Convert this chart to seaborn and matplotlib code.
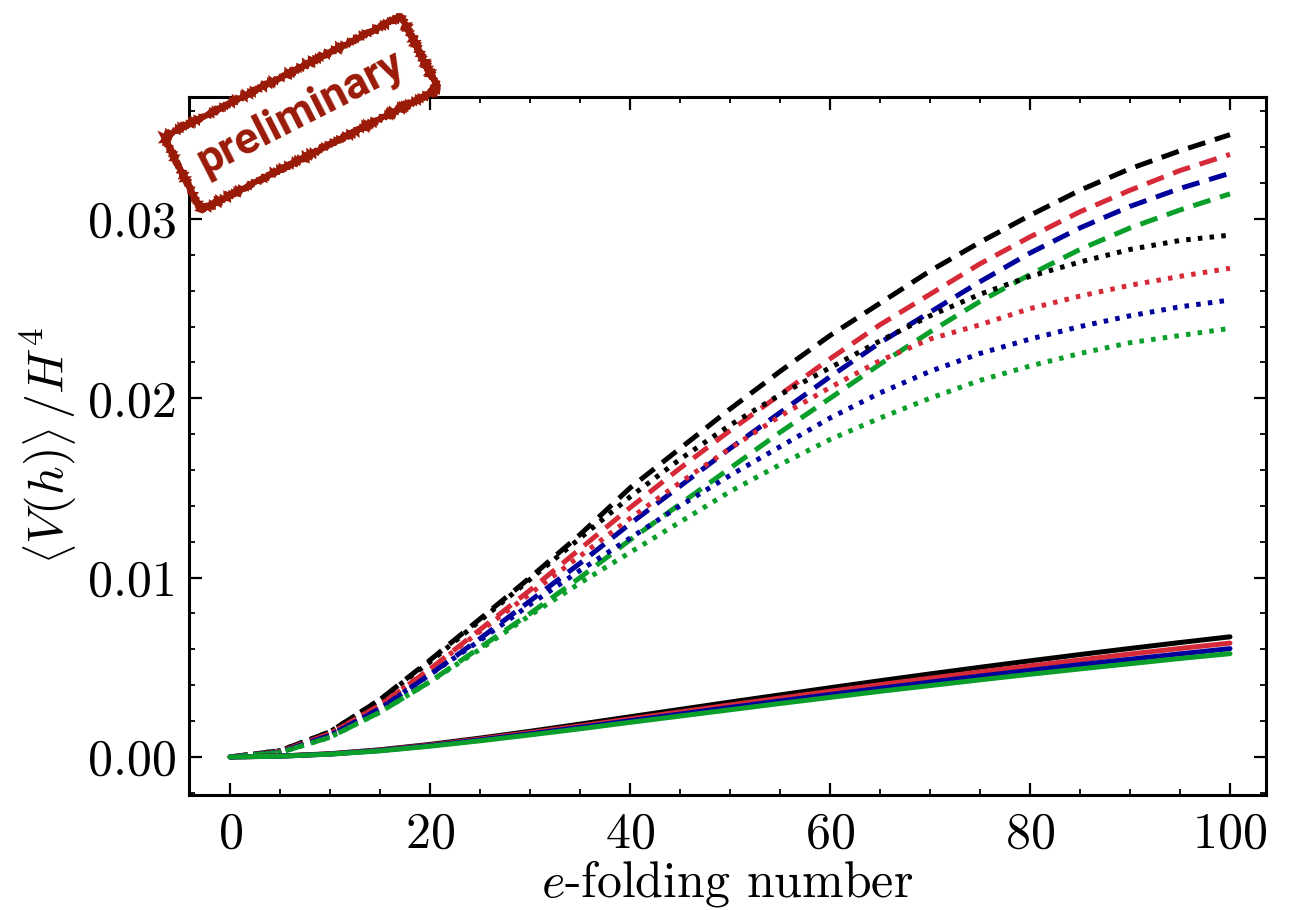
import numpy as np
import pandas as pd
import matplotlib
matplotlib.use("Agg")
import matplotlib.pyplot as plt
import seaborn as sns
from matplotlib.ticker import MultipleLocator, FormatStrFormatter

sns.set_style("ticks")
plt.rcParams.update({
    "font.family": "serif",
    "font.serif": ["cmr10", "DejaVu Serif"],
    "mathtext.fontset": "cm",
    "axes.formatter.use_mathtext": True,
    "axes.unicode_minus": False,
    "axes.edgecolor": "black",
    "xtick.color": "black",
    "ytick.color": "black",
    "text.color": "black",
    "axes.labelcolor": "black",
})

efold = [0, 5, 10, 15, 20, 25, 30, 35, 40, 45, 50, 55, 60, 65, 70, 75, 80, 85, 90, 95, 100]

black_dashed = [0, 0.00035, 0.0014, 0.0032, 0.0054, 0.0077, 0.0100, 0.0124, 0.0150, 0.0172, 0.0194,
                0.0215, 0.0235, 0.0253, 0.0271, 0.0287, 0.0302, 0.0316, 0.0328, 0.0338, 0.0347]
red_dashed = [0, 0.0003, 0.0013, 0.0029, 0.0049, 0.0071, 0.0093, 0.0116, 0.0139, 0.0161, 0.0182,
              0.0202, 0.0222, 0.0241, 0.0258, 0.0275, 0.0290, 0.0304, 0.0316, 0.0327, 0.0336]
blue_dashed = [0, 0.00027, 0.0012, 0.0027, 0.0046, 0.0066, 0.0087, 0.0108, 0.0130, 0.0151, 0.0172,
               0.0192, 0.0212, 0.0231, 0.0248, 0.0265, 0.0281, 0.0295, 0.0307, 0.0317, 0.03255]
green_dashed = [0, 0.00025, 0.0011, 0.0025, 0.0042, 0.0061, 0.0080, 0.0100, 0.0121, 0.0141, 0.0161,
                0.0181, 0.0200, 0.0219, 0.0237, 0.0254, 0.0269, 0.0283, 0.0295, 0.0305, 0.0314]

black_dotted = [0, 0.00035, 0.0014, 0.0032, 0.0053, 0.0076, 0.0099, 0.0122, 0.0145, 0.0166, 0.0185,
                0.0202, 0.0217, 0.0232, 0.0246, 0.0258, 0.0268, 0.0276, 0.0283, 0.0288, 0.0291]
red_dotted = [0, 0.0003, 0.0013, 0.0029, 0.0049, 0.0070, 0.0091, 0.0112, 0.0133, 0.0153, 0.0172,
              0.0190, 0.0206, 0.0221, 0.0233, 0.0241, 0.0250, 0.0257, 0.0263, 0.0268, 0.02725]
blue_dotted = [0, 0.00027, 0.0012, 0.0027, 0.0046, 0.0065, 0.0085, 0.0104, 0.0122, 0.0140, 0.0157,
               0.0173, 0.0189, 0.0203, 0.0215, 0.0225, 0.0233, 0.0240, 0.0246, 0.0251, 0.02548]
green_dotted = [0, 0.00025, 0.0011, 0.0025, 0.0042, 0.0060, 0.0079, 0.0097, 0.0114, 0.0131, 0.0148,
                0.0163, 0.0177, 0.0189, 0.0200, 0.0210, 0.0218, 0.0225, 0.0231, 0.0235, 0.0239]

black_solid = [0, 0.00005, 0.00018, 0.0004, 0.0007, 0.00105, 0.00143, 0.00183, 0.00224, 0.00265, 0.00306,
               0.00346, 0.00386, 0.00425, 0.00463, 0.0050, 0.00536, 0.00571, 0.00605, 0.00638, 0.0067]
red_solid = [0, 0.00005, 0.00017, 0.00038, 0.00066, 0.0010, 0.00136, 0.00173, 0.00212, 0.00251, 0.0029,
             0.00328, 0.00366, 0.00403, 0.00439, 0.00474, 0.00508, 0.00541, 0.00574, 0.00605, 0.00635]
blue_solid = [0, 0.000045, 0.00016, 0.00036, 0.00063, 0.00095, 0.00129, 0.00165, 0.00202, 0.00239, 0.00276,
              0.00312, 0.00348, 0.00383, 0.00417, 0.00451, 0.00483, 0.00515, 0.00545, 0.00575, 0.00604]
green_solid = [0, 0.00004, 0.000155, 0.00034, 0.0006, 0.0009, 0.00123, 0.00157, 0.00193, 0.00228, 0.00263,
               0.00298, 0.00332, 0.00366, 0.00398, 0.0043, 0.00461, 0.00491, 0.0052, 0.00549, 0.00576]

colors = {"black": "#000000", "red": "#d62a38", "blue": "#00009a", "green": "#0a9e2a"}

series = [
    ("black", "dashed", black_dashed), ("red", "dashed", red_dashed),
    ("blue", "dashed", blue_dashed), ("green", "dashed", green_dashed),
    ("black", "dotted", black_dotted), ("red", "dotted", red_dotted),
    ("blue", "dotted", blue_dotted), ("green", "dotted", green_dotted),
    ("black", "solid", black_solid), ("red", "solid", red_solid),
    ("blue", "solid", blue_solid), ("green", "solid", green_solid),
]

fig = plt.figure(figsize=(12.93, 9.10), dpi=100)
ax = fig.add_axes([0.1462, 0.1264, 0.8329, 0.767])

lw = 3.6
for cname, style, vals in series:
    df = pd.DataFrame({"x": efold, "y": vals})
    sns.lineplot(data=df, x="x", y="y", ax=ax, color=colors[cname], lw=lw)
    l = ax.lines[-1]
    if style == "dashed":
        l.set_dashes((3.6, 2.0))
    elif style == "dotted":
        l.set_dashes((0.9, 1.45))
    l.set_dash_capstyle("butt")
    l.set_solid_joinstyle("round")

ax.set_xlim(-4.1, 103.6)
ax.set_ylim(-0.00212, 0.0368)
ax.xaxis.set_major_locator(MultipleLocator(20))
ax.xaxis.set_minor_locator(MultipleLocator(5))
ax.yaxis.set_major_locator(MultipleLocator(0.01))
ax.yaxis.set_minor_locator(MultipleLocator(0.002))
ax.yaxis.set_major_formatter(FormatStrFormatter("%.2f"))

ax.tick_params(which="both", direction="in", top=True, right=True, labelsize=36)
ax.tick_params(axis="x", which="major", pad=12)
ax.tick_params(axis="y", which="major", pad=9)
ax.tick_params(which="major", length=9, width=1.6)
ax.tick_params(which="minor", length=4.5, width=1.3)
for sp in ax.spines.values():
    sp.set_linewidth(2.2)
    sp.set_visible(True)

ax.set_xlabel(r"$e$-folding number", fontsize=36, labelpad=0)
ax.set_ylabel(r"$\left\langle V(h)\right\rangle\,/H^4$", fontsize=36, labelpad=6)

stamp_color = "#9a1a08"
t = fig.text(0.2328, 0.8758, "preliminary", rotation=27, ha="center", va="center",
             fontsize=32, fontweight="bold", color=stamp_color,
             family=["Roboto", "DejaVu Sans"],
             rotation_mode="anchor", zorder=20,
             bbox=dict(boxstyle="square,pad=0.45", fc="white", ec=stamp_color, lw=4.0))
t.get_bbox_patch().set_sketch_params(scale=1.2, length=3.0, randomness=2.0)

fig.savefig("out.png", dpi=100)
